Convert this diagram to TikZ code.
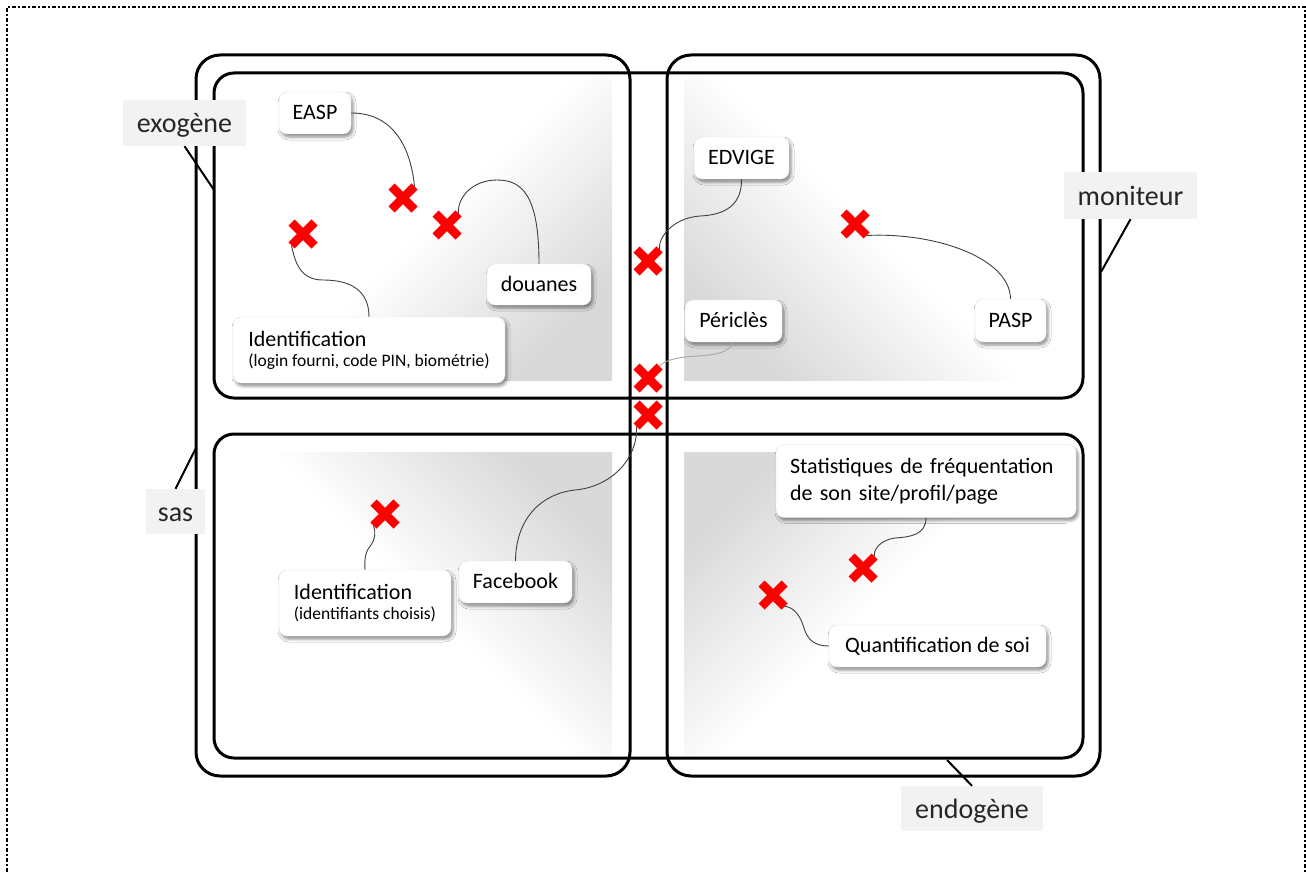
\documentclass[tikz,border=0pt]{standalone}
\usepackage{fontspec}
\setmainfont{Carlito}
\usetikzlibrary{shapes.misc,shadows.blur}
\definecolor{labfill}{HTML}{F2F2F2}
\definecolor{labtext}{HTML}{262626}
\definecolor{conn}{HTML}{404040}
\definecolor{connlight}{HTML}{A6A6A6}
\definecolor{xred}{HTML}{FF0000}
\pgfdeclareverticalshading{quadshade}{100bp}{color(0bp)=(white); color(25bp)=(white); color(50bp)=(white); color(75bp)=(black!15); color(100bp)=(black!15)}
\begin{document}
\begin{tikzpicture}[x=1pt,y=-1pt,
  bigbox/.style={draw=black, line width=3pt, rounded corners=24pt},
  quadbox/.style={draw=black, line width=3pt, rounded corners=20pt},
  grad/.style={shading=quadshade, shading angle=#1},
  itembox/.style={draw=black!12, line width=0.4pt, fill=white, rounded corners=8pt,
    blur shadow={shadow xshift=2pt, shadow yshift=-3pt, shadow blur radius=3pt, shadow opacity=45},
    font=\fontsize{22}{27}\selectfont, inner sep=0pt},
  oneline/.style={text height=13pt, text depth=0pt},
  labbox/.style={fill=labfill, text=labtext, font=\fontsize{28}{32}\selectfont, inner sep=0pt, text height=19pt, text depth=0pt},
  callout/.style={draw=black, line width=2pt},
  conline/.style={draw=conn, line width=0.9pt},
  conlight/.style={draw=connlight, line width=0.9pt},
  xmark/.style={cross out, draw=xred, line width=8.5pt, minimum size=14.5pt, inner sep=0pt}
]
\useasboundingbox (0,0) rectangle (1306,872);
% page border
\draw[line width=2pt, dash pattern=on 4pt off 2pt on 2pt off 2pt] (7,872) -- (7,7) -- (1305,7) -- (1305,872);

% gradients
\shade[grad=-135] (230,80) rectangle (612,380);
\shade[grad=135] (684,80) rectangle (1066,380);
\shade[grad=-45] (230,452) rectangle (612,755);
\shade[grad=45] (684,452) rectangle (1066,755);

% big frames
\draw[bigbox] (196,55) rectangle (630,776);
\draw[bigbox] (667,55) rectangle (1100,776);
\draw[quadbox] (214,73) rectangle (1083,398);
\draw[quadbox] (214,434) rectangle (1083,758);

% crosses
\node[xmark] (x1) at (403,198) {};
\node[xmark] (x2) at (447,225) {};
\node[xmark] (x3) at (303,234) {};
\node[xmark] (c1) at (648,261) {};
\node[xmark] (c2) at (648,378) {};
\node[xmark] (c3) at (648,415) {};
\node[xmark] (xtr) at (855,224) {};
\node[xmark] (xbl) at (385,514) {};
\node[xmark] (xs) at (863,568) {};
\node[xmark] (xq) at (773,595) {};

% item nodes
\node[itembox, oneline, minimum width=72pt, minimum height=42pt] (easp) at (315,113) {EASP};
\node[itembox, oneline, minimum width=104pt, minimum height=41pt] (douanes) at (539,284.5) {douanes};
\node[itembox, align=left, minimum width=272pt, minimum height=66pt] (idtl) at (369,350)
  {Identification\\[-7pt]{\fontsize{17.5}{21}\selectfont (login fourni, code PIN, biométrie)}};
\node[itembox, oneline, minimum width=95pt, minimum height=42pt] (edvige) at (741.5,158) {EDVIGE};
\node[itembox, oneline, minimum width=97pt, minimum height=42pt] (pericles) at (733.5,321) {Périclès};
\node[itembox, oneline, minimum width=71pt, minimum height=43pt] (pasp) at (1010.5,320.5) {PASP};
\node[itembox, align=left, minimum width=172pt, minimum height=66pt] (idbl) at (365,603)
  {Identification\\[-7pt]{\fontsize{17.5}{21}\selectfont (identifiants choisis)}};
\node[itembox, oneline, minimum width=113pt, minimum height=42pt] (facebook) at (515.5,582) {Facebook};
\node[itembox, align=left, text width=272pt, inner xsep=14pt, minimum height=73pt] (stats) at (926,481)
  {Statistiques de fréquentation\\de son site/profil/page};
\node[itembox, oneline, minimum width=217pt, minimum height=42pt] (quant) at (937.5,646) {Quantification de soi};

% connectors
\draw[conline] (easp.east) .. controls (395,113) and (411,150) .. (x1.north east);
\draw[conline] (douanes.north) .. controls (539,195) and (522,180) .. (497,180)
  .. controls (472,180) and (457,198) .. (x2.north east);
\draw[conline] (idtl.north) .. controls (369,290) and (350,280) .. (323,280)
  .. controls (300,280) and (295,262) .. (x3.south west);
\draw[conline] (edvige.south) .. controls (742,205) and (725,215) .. (700,216)
  .. controls (672,218) and (658,238) .. (c1.north east);
\draw[conlight] (pericles.south) .. controls (728,357) and (700,355) .. (685,357)
  .. controls (668,359) and (660,364) .. (c2.north east);
\draw[conline] (pasp.north) .. controls (1010,258) and (935,232) .. (xtr.south east);
\draw[conline] (facebook.north) .. controls (516,515) and (545,493) .. (575,490)
  .. controls (610,487) and (638,460) .. (c3.south west);
\draw[conline] (idbl.north) .. controls (364,555) and (367,550) .. (371,545)
  .. controls (375,540) and (376,532) .. (xbl.south west);
\draw[conline] (stats.south) .. controls (926,535) and (910,537) .. (895,538)
  .. controls (880,540) and (873,550) .. (xs.north east);
\draw[conline] (quant.west) .. controls (810,646) and (806,635) .. (803,625)
  .. controls (799,612) and (790,606) .. (xq.south east);

% outer labels
\node[labbox, minimum width=123pt, minimum height=46pt] (exo) at (184.5,123) {exogène};
\node[labbox, minimum width=133pt, minimum height=47pt] (moni) at (1130.5,195.5) {moniteur};
\node[labbox, minimum width=59pt, minimum height=45pt] (sas) at (175.5,511.5) {sas};
\node[labbox, minimum width=142pt, minimum height=45pt] (endo) at (972,808.5) {endogène};
\coordinate (exopt) at (214,190);
\coordinate (monipt) at (1101,272);
\coordinate (saspt) at (196,448);
\coordinate (endopt) at (947,760);
\draw[callout] (exo.south) -- (exopt);
\draw[callout] (moni.south) -- (monipt);
\draw[callout] (sas.north) -- (saspt);
\draw[callout] (endo.north) -- (endopt);
\end{tikzpicture}
\end{document}
